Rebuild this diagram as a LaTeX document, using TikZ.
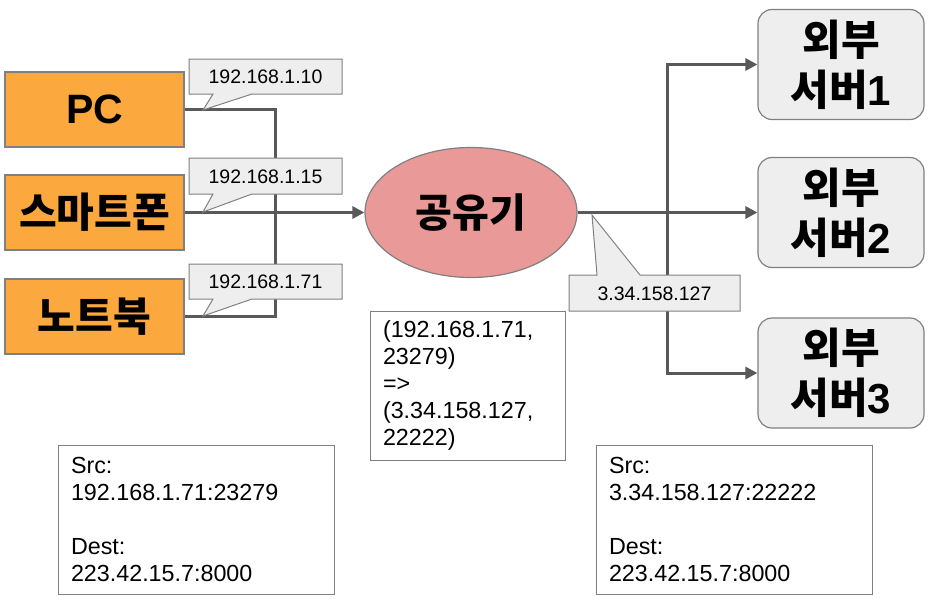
\documentclass[tikz,border=0pt]{standalone}
\usepackage{fontspec}
\setmainfont{Liberation Sans}
\newfontfamily\kr{Noto Sans CJK KR}
\usetikzlibrary{arrows.meta,shapes.geometric}
\definecolor{linegray}{HTML}{595959}
\definecolor{bordergray}{HTML}{808080}
\definecolor{devorange}{HTML}{FBA83E}
\definecolor{routerpink}{HTML}{EA9999}
\definecolor{lightgray}{HTML}{EEEEEE}
\begin{document}
\begin{tikzpicture}[x=1pt,y=-1pt,
  conn/.style={draw=linegray, line width=3pt},
  arr/.style={conn, -{Triangle[length=12pt,width=12pt]}},
  dev/.style={draw=bordergray, line width=1.2pt, fill=devorange, minimum width=179pt, minimum height=75pt, inner sep=0pt, font=\fontsize{41}{44}\selectfont\bfseries},
  srv/.style={draw=bordergray, line width=1.2pt, fill=lightgray, rounded corners=14pt, minimum width=166pt, minimum height=110pt, inner sep=0pt, align=center, font=\fontsize{42}{50}\selectfont\bfseries},
  callout/.style={draw=bordergray, line width=1pt, fill=lightgray},
  calltext/.style={inner sep=0pt, font=\fontsize{19.5}{22}\selectfont},
  infobox/.style={draw=bordergray, line width=1pt, fill=white, inner xsep=13pt, inner ysep=0pt, align=left, font=\fontsize{23.3}{27}\selectfont},
]
\useasboundingbox (0,0) rectangle (928,598);

% devices
\node[dev] (pc) at (94.5,109.5) {PC};
\node[dev] (phone) at (94.5,212.5) {\kr 스마트폰};
\node[dev] (nb) at (94.5,316.5) {\kr 노트북};

% router
\node[ellipse, draw=bordergray, line width=1.2pt, fill=routerpink, minimum width=212pt, minimum height=130pt, inner sep=0pt, font=\fontsize{40}{44}\selectfont\bfseries] (router) at (471,212.5) {\kr 공유기};

% servers
\node[srv] (s1) at (841,64.5) {{\kr 외부}\\{\kr 서버}1};
\node[srv] (s2) at (841,212.5) {{\kr 외부}\\{\kr 서버}2};
\node[srv] (s3) at (841,373) {{\kr 외부}\\{\kr 서버}3};

% connectors
\coordinate (bus) at (275,212.5);
\draw[conn] (pc.east) -- (pc.east -| bus) -- (nb.east -| bus) -- (nb.east);
\draw[arr] (phone.east) -- (router.west);
\coordinate (hub) at (667,212.5);
\draw[conn] (router.east) -- (hub);
\draw[arr] (hub) |- (s1.west);
\draw[arr] (hub) -- (s2.west);
\draw[arr] (hub) |- (s3.west);

% callouts
\draw[callout] (189,59) -- (342,59) -- (342,94) -- (252,94) -- (203,110) -- (213,94) -- (189,94) -- cycle;
\node[calltext] (c1) at (265.5,77) {192.168.1.10};
\draw[callout] (189,158) -- (342,158) -- (342,194) -- (252,194) -- (203,212) -- (213,194) -- (189,194) -- cycle;
\node[calltext] (c2) at (265.5,176.5) {192.168.1.15};
\draw[callout] (189,264) -- (342,264) -- (342,299) -- (252,299) -- (203,316) -- (213,299) -- (189,299) -- cycle;
\node[calltext] (c3) at (265.5,282) {192.168.1.71};
\draw[callout] (569,275) -- (597,275) -- (592,215) -- (640,275) -- (740,275) -- (740,311) -- (569,311) -- cycle;
\node[calltext] (c4) at (654.5,294) {3.34.158.127};

% info boxes
\node[infobox, text width=169pt, minimum height=149pt] (nat) at (467.5,385.5)
  {(192.168.1.71,\\23279)\\=>\\(3.34.158.127,\\22222)};
\node[infobox, text width=250pt, minimum height=149pt] (srcL) at (196,519.5)
  {Src:\\192.168.1.71:23279\\[27pt]Dest:\\223.42.15.7:8000};
\node[infobox, text width=250pt, minimum height=149pt] (srcR) at (734,519.5)
  {Src:\\3.34.158.127:22222\\[27pt]Dest:\\223.42.15.7:8000};
\end{tikzpicture}
\end{document}
